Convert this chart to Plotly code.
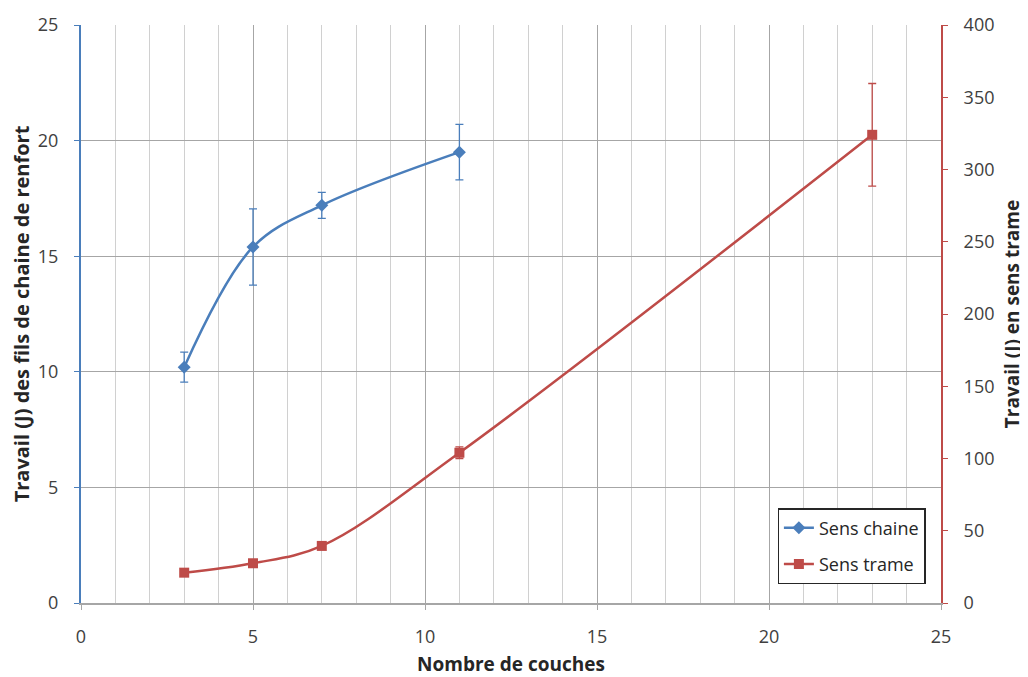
import plotly.graph_objects as go

# Data
couches_chaine = [3, 5, 7, 11]
travail_chaine = [10.2, 15.4, 17.2, 19.5]
err_chaine = [0.65, 1.65, 0.56, 1.2]

couches_trame = [3, 5, 7, 11, 23]
travail_trame = [21, 27.5, 39.5, 104, 324]
err_trame = [1.5, 1.5, 1.5, 4, 35.5]

x_ticks = [0, 5, 10, 15, 20, 25]

BLUE = "#4A7EBB"
RED = "#BE4B48"
TICKC = "#404040"
TITLEC = "#262626"
FONT = "Open Sans, Liberation Sans, sans-serif"

fig = go.Figure()
fig.add_trace(go.Scatter(
    x=couches_chaine, y=travail_chaine, name="Sens chaine", legendgroup="a",
    mode="lines+markers", line=dict(color=BLUE, width=2.5, shape="spline", smoothing=1),
    marker=dict(symbol="diamond", size=10, color=BLUE),
    error_y=dict(type="data", array=err_chaine, color=BLUE, thickness=1.3, width=4),
    yaxis="y"))
fig.add_trace(go.Scatter(
    x=couches_trame, y=travail_trame, name="Sens trame", legendgroup="b",
    mode="lines+markers", line=dict(color=RED, width=2.5, shape="spline", smoothing=1),
    marker=dict(symbol="square", size=10, color=RED),
    error_y=dict(type="data", array=err_trame, color=RED, thickness=1.3, width=4),
    yaxis="y2"))

fig.update_layout(
    width=1028, height=677,
    margin=dict(l=73, r=95, t=17, b=82),
    paper_bgcolor="white", plot_bgcolor="white",
    font=dict(family=FONT, size=18, color=TICKC),
    xaxis=dict(range=[0, 25], tickvals=x_ticks, showgrid=True, gridcolor="#A6A6A6", gridwidth=1,
               minor=dict(dtick=1, showgrid=True, gridcolor="#D0D0D0", gridwidth=1),
               showline=True, linecolor="#A6A6A6", linewidth=1.5, ticks="outside", ticklen=5,
               tickcolor="#A6A6A6", zeroline=False, automargin=False, ticklabelstandoff=12,
               tickfont=dict(size=18, color=TICKC),
               title=dict(text="<b>Nombre de couches</b>", font=dict(size=19, color=TITLEC), standoff=10)),
    yaxis=dict(range=[0, 25], dtick=5, showgrid=True, gridcolor="#A6A6A6", gridwidth=1,
               showline=True, linecolor=BLUE, linewidth=2, ticks="outside", ticklen=5, tickcolor=BLUE,
               zeroline=False, automargin=False, ticklabelstandoff=12, tickfont=dict(size=18, color=TICKC),
               title=dict(text="<b>Travail (J) des fils de chaine de renfort</b>",
                          font=dict(size=20, color=TITLEC), standoff=8)),
    yaxis2=dict(range=[0, 400], dtick=50, overlaying="y", side="right", showgrid=False,
                showline=True, linecolor=RED, linewidth=2, ticks="outside", ticklen=5, tickcolor=RED,
                zeroline=False, automargin=False, ticklabelstandoff=12, tickfont=dict(size=18, color=TICKC),
                title=dict(text="<b>Travail (J) en sens trame</b>",
                           font=dict(size=19, color=TITLEC), standoff=12)),
    legend=dict(x=0.81, y=0.164, xanchor="left", yanchor="top", bgcolor="white",
                bordercolor=TITLEC, borderwidth=1.3, tracegroupgap=10,
                font=dict(size=18, color=TITLEC)),
)

fig.write_html("out.html")
